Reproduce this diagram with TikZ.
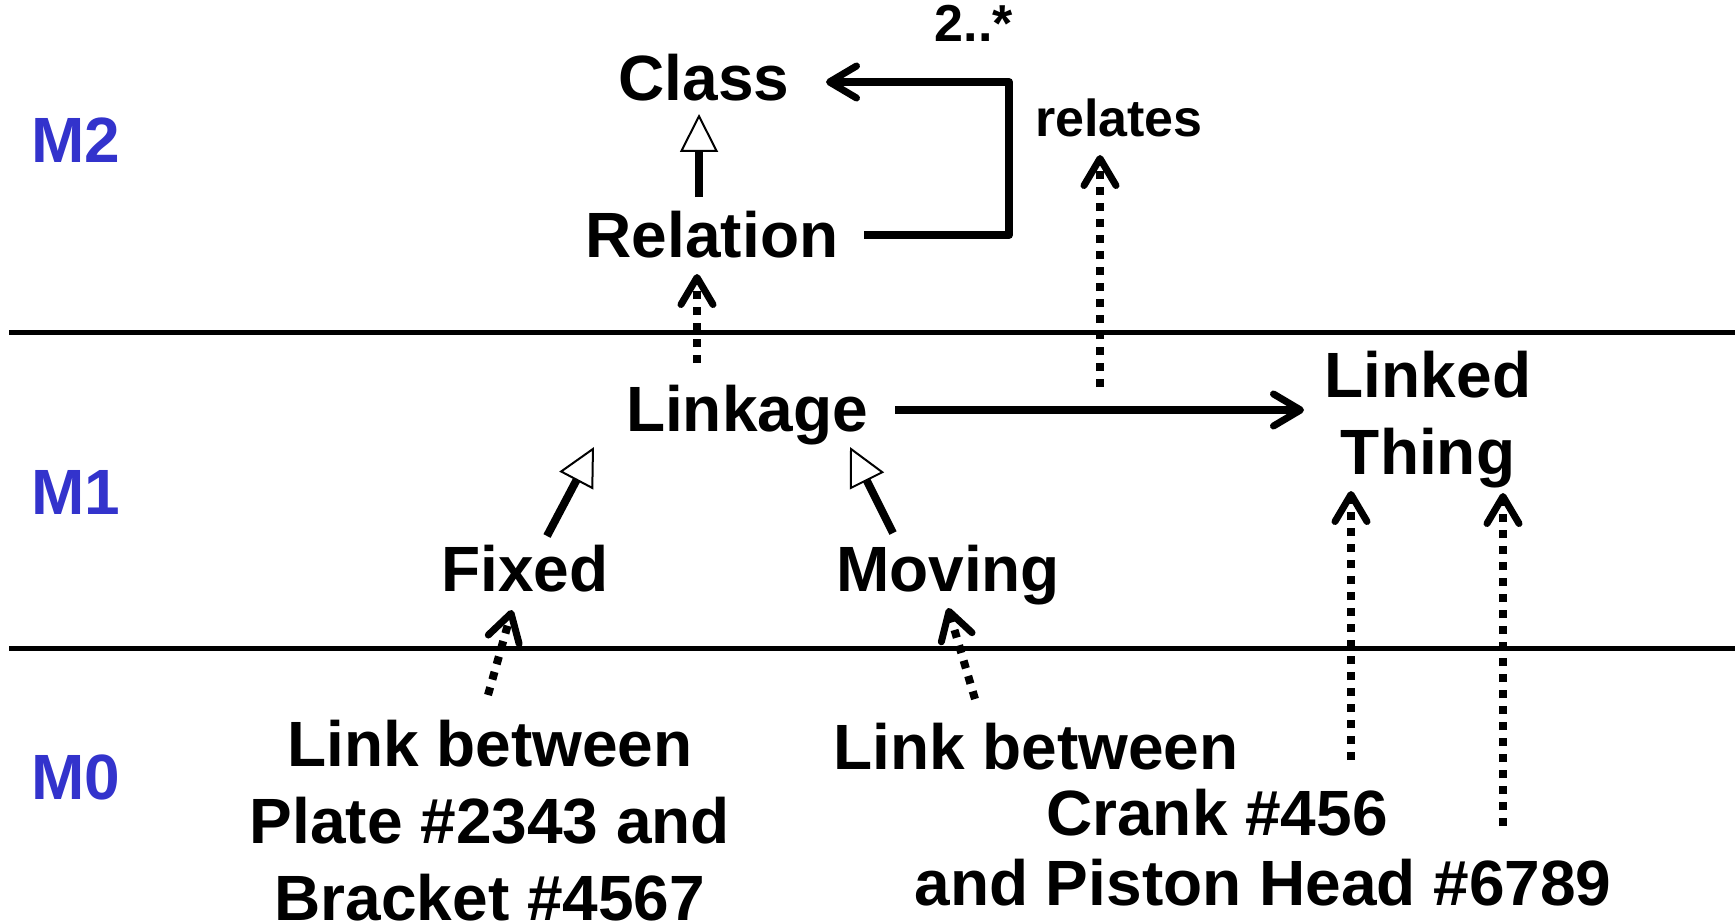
\documentclass[tikz,border=0pt]{standalone}
\usepackage{fontspec}
\setmainfont{Liberation Sans}
\usetikzlibrary{arrows.meta,calc}
\definecolor{levelblue}{RGB}{51,51,204}
\begin{document}
\begin{tikzpicture}[x=1pt,y=-1pt,
  lbl/.style={inner sep=0pt, anchor=base, font=\fontsize{64}{77}\selectfont\bfseries},
  block/.style={inner sep=0pt, anchor=north, align=center, font=\fontsize{64}{77}\selectfont\bfseries},
  small/.style={inner sep=0pt, anchor=base, font=\fontsize{52}{60}\selectfont\bfseries},
  level/.style={inner sep=0pt, anchor=base west, text=levelblue, font=\fontsize{64}{77}\selectfont\bfseries},
  sep/.style={line width=5pt},
  assoc/.style={line width=8pt, line join=round, -{Straight Barb[round,length=27pt,width=32pt,line width=7pt]}},
  gen/.style={line width=8pt, -{Triangle[fill=white,length=38pt,width=38pt,line width=2pt]}},
  dep/.style={line width=8pt, dash pattern=on 8pt off 8pt, -{Straight Barb[round,length=27pt,width=32pt,line width=7pt]}}
]
\useasboundingbox (0,0) rectangle (1735,923);

% level separators
\draw[sep] (9,332) -- (1735,332);
\draw[sep] (9,648) -- (1735,648);

% level labels
\node[level] (M2) at (31,163) {M2};
\node[level] (M1) at (31,514) {M1};
\node[level] (M0) at (31,799) {M0};

% M2
\node[lbl] (Class) at (704,101) {Class};
\node[lbl] (Relation) at (712,257) {Relation};
\node[small] (mult) at (974,42) {2..*};
\node[small] (relates) at (1119,137) {relates};

% M1
\node[lbl] (Linkage) at (747,431) {Linkage};
\node[block] (thing) at (1428,351) {Linked\\Thing};
\node[lbl] (Fixed) at (525,591) {Fixed};
\node[lbl] (Moving) at (948,591) {Moving};

% M0
\node[block] (linkA) at (490,720) {Link between\\Plate \#2343 and\\Bracket \#4567};
\node[lbl] (linkB1) at (1036,769) {Link between};
\node[lbl] (linkB2) at (1217,835) {Crank \#456};
\node[lbl] (linkB3) at (1263,905) {and Piston Head \#6789};

% M2 connectors
\draw[gen] ($(Relation.base)+(-13,-60)$) -- ($(Class.base)+(-5,13)$);
\draw[assoc] ($(Relation.base)+(152,-22)$) -- ++(145,0) |- ($(Class.base)+(122,-19)$);

% M1 connectors
\coordinate (relmid) at ($(Linkage.base)+(353,-44)$);
\draw[assoc] ($(Linkage.base)+(148,-21)$) -- ($(thing.north)+(-124,59)$);
\draw[dep] (relmid) -- ($(relates.base)+(-19,18)$);
\draw[dep] ($(Linkage.base)+(-50,-68)$) -- ($(Relation.base)+(-15,17)$);
\draw[gen] ($(Fixed.base)+(22,-55)$) -- ($(Linkage.base)+(-153,16)$);
\draw[gen] ($(Moving.base)+(-55,-58)$) -- ($(Linkage.base)+(103,16)$);

% M0 connectors
\draw[dep] ($(linkA.north)+(-2,-25)$) -- ($(Fixed.base)+(-13,19)$);
\draw[dep] ($(linkB1.base)+(-61,-70)$) -- ($(Moving.base)+(0,17)$);
\draw[dep] ($(linkB2.base)+(134,-75)$) -- ($(thing.north)+(-77,140)$);
\draw[dep] ($(linkB3.base)+(240,-79)$) -- ($(thing.north)+(75,142)$);
\end{tikzpicture}
\end{document}
